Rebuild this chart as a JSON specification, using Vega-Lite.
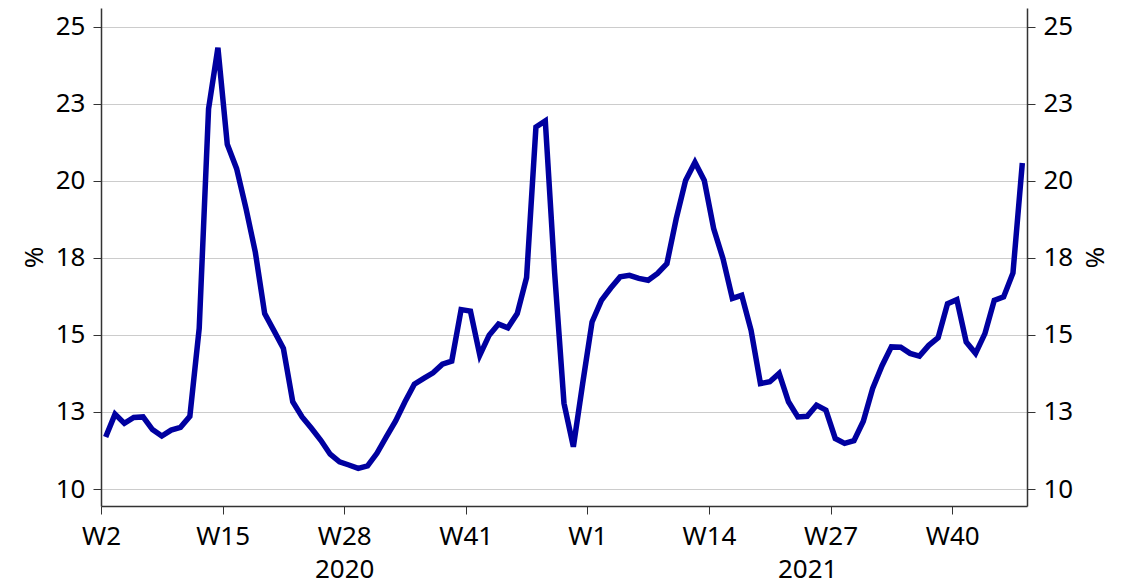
{
  "$schema": "https://vega.github.io/schema/vega-lite/v6.json",
  "width": 926,
  "height": 498,
  "autosize": {"type": "none"},
  "padding": {"left": 101, "top": 8, "right": 98, "bottom": 81},
  "background": "white",
  "config": {
    "view": {"stroke": null},
    "font": "Noto Sans",
    "axis": {
      "labelFont": "Noto Sans",
      "titleFont": "Noto Sans",
      "labelFontSize": 26,
      "titleFontSize": 26,
      "labelColor": "#000000",
      "titleColor": "#000000",
      "titleFontWeight": "normal",
      "domainColor": "#333333",
      "domainWidth": 1.5,
      "tickColor": "#333333",
      "tickWidth": 1,
      "tickSize": 8,
      "labelPadding": 8,
      "gridColor": "#cccccc",
      "gridWidth": 1
    }
  },
  "data": {
    "values": [
      {"i": 0, "year": 2020, "week": 2, "v": 11.69},
      {"i": 1, "year": 2020, "week": 3, "v": 12.43},
      {"i": 2, "year": 2020, "week": 4, "v": 12.13},
      {"i": 3, "year": 2020, "week": 5, "v": 12.32},
      {"i": 4, "year": 2020, "week": 6, "v": 12.34},
      {"i": 5, "year": 2020, "week": 7, "v": 11.93},
      {"i": 6, "year": 2020, "week": 8, "v": 11.72},
      {"i": 7, "year": 2020, "week": 9, "v": 11.91},
      {"i": 8, "year": 2020, "week": 10, "v": 12.0},
      {"i": 9, "year": 2020, "week": 11, "v": 12.36},
      {"i": 10, "year": 2020, "week": 12, "v": 15.21},
      {"i": 11, "year": 2020, "week": 13, "v": 22.33},
      {"i": 12, "year": 2020, "week": 14, "v": 24.31},
      {"i": 13, "year": 2020, "week": 15, "v": 21.18},
      {"i": 14, "year": 2020, "week": 16, "v": 20.39},
      {"i": 15, "year": 2020, "week": 17, "v": 19.1},
      {"i": 16, "year": 2020, "week": 18, "v": 17.68},
      {"i": 17, "year": 2020, "week": 19, "v": 15.69},
      {"i": 18, "year": 2020, "week": 20, "v": 15.13},
      {"i": 19, "year": 2020, "week": 21, "v": 14.56},
      {"i": 20, "year": 2020, "week": 22, "v": 12.83},
      {"i": 21, "year": 2020, "week": 23, "v": 12.34},
      {"i": 22, "year": 2020, "week": 24, "v": 11.97},
      {"i": 23, "year": 2020, "week": 25, "v": 11.58},
      {"i": 24, "year": 2020, "week": 26, "v": 11.13},
      {"i": 25, "year": 2020, "week": 27, "v": 10.88},
      {"i": 26, "year": 2020, "week": 28, "v": 10.78},
      {"i": 27, "year": 2020, "week": 29, "v": 10.67},
      {"i": 28, "year": 2020, "week": 30, "v": 10.75},
      {"i": 29, "year": 2020, "week": 31, "v": 11.16},
      {"i": 30, "year": 2020, "week": 32, "v": 11.69},
      {"i": 31, "year": 2020, "week": 33, "v": 12.21},
      {"i": 32, "year": 2020, "week": 34, "v": 12.83},
      {"i": 33, "year": 2020, "week": 35, "v": 13.4},
      {"i": 34, "year": 2020, "week": 36, "v": 13.59},
      {"i": 35, "year": 2020, "week": 37, "v": 13.77},
      {"i": 36, "year": 2020, "week": 38, "v": 14.05},
      {"i": 37, "year": 2020, "week": 39, "v": 14.15},
      {"i": 38, "year": 2020, "week": 40, "v": 15.82},
      {"i": 39, "year": 2020, "week": 41, "v": 15.77},
      {"i": 40, "year": 2020, "week": 42, "v": 14.34},
      {"i": 41, "year": 2020, "week": 43, "v": 14.99},
      {"i": 42, "year": 2020, "week": 44, "v": 15.35},
      {"i": 43, "year": 2020, "week": 45, "v": 15.23},
      {"i": 44, "year": 2020, "week": 46, "v": 15.69},
      {"i": 45, "year": 2020, "week": 47, "v": 16.86},
      {"i": 46, "year": 2020, "week": 48, "v": 21.74},
      {"i": 47, "year": 2020, "week": 49, "v": 21.94},
      {"i": 48, "year": 2020, "week": 50, "v": 17.0},
      {"i": 49, "year": 2020, "week": 51, "v": 12.78},
      {"i": 50, "year": 2020, "week": 52, "v": 11.37},
      {"i": 51, "year": 2020, "week": 53, "v": 13.43},
      {"i": 52, "year": 2021, "week": 1, "v": 15.42},
      {"i": 53, "year": 2021, "week": 2, "v": 16.12},
      {"i": 54, "year": 2021, "week": 3, "v": 16.52},
      {"i": 55, "year": 2021, "week": 4, "v": 16.88},
      {"i": 56, "year": 2021, "week": 5, "v": 16.93},
      {"i": 57, "year": 2021, "week": 6, "v": 16.83},
      {"i": 58, "year": 2021, "week": 7, "v": 16.77},
      {"i": 59, "year": 2021, "week": 8, "v": 16.99},
      {"i": 60, "year": 2021, "week": 9, "v": 17.31},
      {"i": 61, "year": 2021, "week": 10, "v": 18.77},
      {"i": 62, "year": 2021, "week": 11, "v": 20.01},
      {"i": 63, "year": 2021, "week": 12, "v": 20.6},
      {"i": 64, "year": 2021, "week": 13, "v": 20.01},
      {"i": 65, "year": 2021, "week": 14, "v": 18.45},
      {"i": 66, "year": 2021, "week": 15, "v": 17.47},
      {"i": 67, "year": 2021, "week": 16, "v": 16.18},
      {"i": 68, "year": 2021, "week": 17, "v": 16.28},
      {"i": 69, "year": 2021, "week": 18, "v": 15.15},
      {"i": 70, "year": 2021, "week": 19, "v": 13.42},
      {"i": 71, "year": 2021, "week": 20, "v": 13.48},
      {"i": 72, "year": 2021, "week": 21, "v": 13.75},
      {"i": 73, "year": 2021, "week": 22, "v": 12.83},
      {"i": 74, "year": 2021, "week": 23, "v": 12.34},
      {"i": 75, "year": 2021, "week": 24, "v": 12.36},
      {"i": 76, "year": 2021, "week": 25, "v": 12.72},
      {"i": 77, "year": 2021, "week": 26, "v": 12.56},
      {"i": 78, "year": 2021, "week": 27, "v": 11.64},
      {"i": 79, "year": 2021, "week": 28, "v": 11.48},
      {"i": 80, "year": 2021, "week": 29, "v": 11.57},
      {"i": 81, "year": 2021, "week": 30, "v": 12.2},
      {"i": 82, "year": 2021, "week": 31, "v": 13.26},
      {"i": 83, "year": 2021, "week": 32, "v": 14.0},
      {"i": 84, "year": 2021, "week": 33, "v": 14.61},
      {"i": 85, "year": 2021, "week": 34, "v": 14.6},
      {"i": 86, "year": 2021, "week": 35, "v": 14.4},
      {"i": 87, "year": 2021, "week": 36, "v": 14.31},
      {"i": 88, "year": 2021, "week": 37, "v": 14.66},
      {"i": 89, "year": 2021, "week": 38, "v": 14.91},
      {"i": 90, "year": 2021, "week": 39, "v": 16.01},
      {"i": 91, "year": 2021, "week": 40, "v": 16.14},
      {"i": 92, "year": 2021, "week": 41, "v": 14.77},
      {"i": 93, "year": 2021, "week": 42, "v": 14.4},
      {"i": 94, "year": 2021, "week": 43, "v": 15.04},
      {"i": 95, "year": 2021, "week": 44, "v": 16.12},
      {"i": 96, "year": 2021, "week": 45, "v": 16.23},
      {"i": 97, "year": 2021, "week": 46, "v": 17.01},
      {"i": 98, "year": 2021, "week": 47, "v": 20.57}
    ]
  },
  "layer": [
    {
      "mark": {"type": "line", "color": "#0000a0", "strokeWidth": 5.5, "strokeJoin": "miter", "strokeMiterLimit": 4},
      "encoding": {
        "x": {
          "field": "i",
          "type": "quantitative",
          "scale": {"domain": [-0.5, 98.5], "nice": false, "zero": false},
          "axis": {
            "orient": "bottom",
            "title": null,
            "grid": false,
            "values": [-0.5, 12.5, 25.5, 38.5, 51.5, 64.5, 77.5, 90.5],
            "labelExpr": "'W' + (datum.value < 51 ? datum.value + 2.5 : datum.value - 50.5)",
            "labelFlush": false,
            "labelOverlap": false,
            "labelBound": false,
            "labelPadding": 9
          }
        },
        "y": {
          "field": "v",
          "type": "quantitative",
          "scale": {"domain": [9.45, 25.6], "nice": false, "zero": false},
          "axis": {
            "orient": "left",
            "title": "%",
            "titlePadding": 8,
            "grid": true,
            "values": [10, 12.5, 15, 17.5, 20, 22.5, 25],
            "format": ".0f",
            "labelOverlap": false
          }
        }
      }
    },
    {
      "mark": {"type": "line", "color": "#0000a0", "strokeWidth": 5, "strokeOpacity": 0},
      "encoding": {
        "x": {
          "field": "i",
          "type": "quantitative",
          "scale": {"domain": [-0.5, 98.5], "nice": false, "zero": false},
          "axis": {
            "orient": "bottom",
            "title": null,
            "grid": false,
            "domain": false,
            "ticks": false,
            "tickSize": 0,
            "values": [25.5, 75],
            "labelExpr": "datum.value < 50 ? '2020' : '2021'",
            "labelFlush": false,
            "labelOverlap": false,
            "labelBound": false,
            "labelPadding": 50
          }
        },
        "y": {
          "field": "v",
          "type": "quantitative",
          "scale": {"domain": [9.45, 25.6], "nice": false, "zero": false},
          "axis": {
            "orient": "right",
            "title": "%",
            "titlePadding": 8,
            "grid": false,
            "values": [10, 12.5, 15, 17.5, 20, 22.5, 25],
            "format": ".0f",
            "labelOverlap": false
          }
        }
      }
    }
  ],
  "resolve": {"axis": {"x": "independent", "y": "independent"}}
}
